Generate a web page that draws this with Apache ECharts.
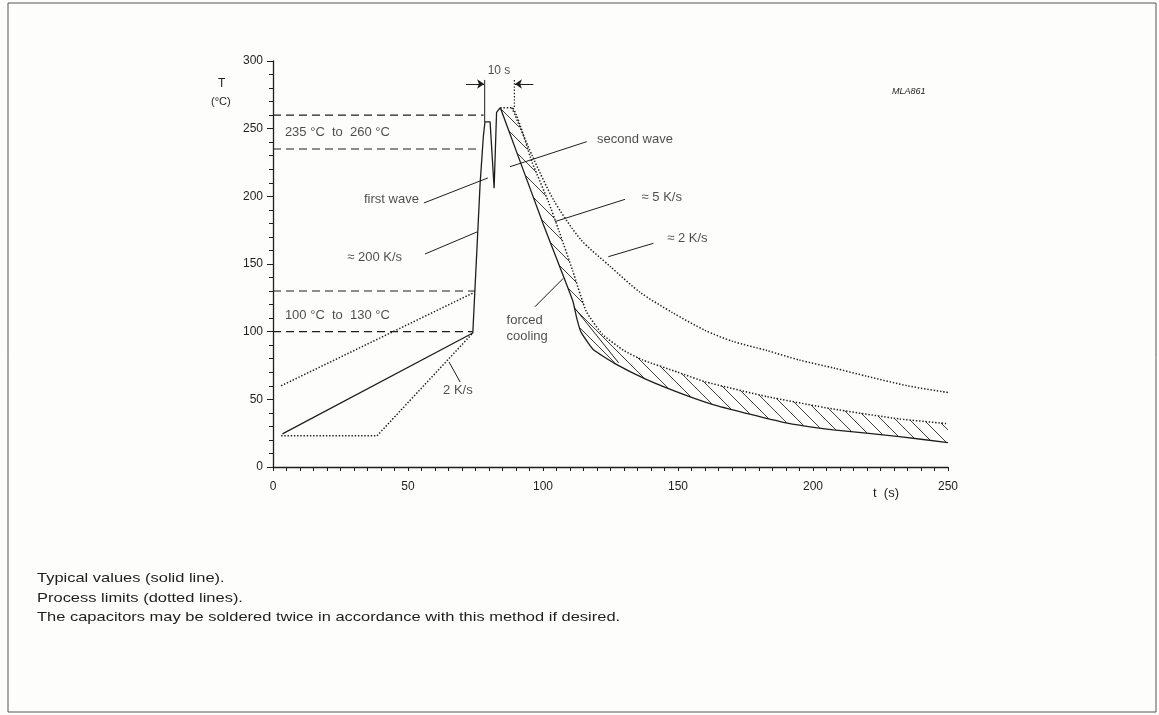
<!DOCTYPE html>
<html><head><meta charset="utf-8">
<script src="https://cdn.jsdelivr.net/npm/echarts@6/dist/echarts.min.js"></script>
<style>html,body{margin:0;padding:0;background:#fdfdfc;}#c{width:1159px;height:715px;}</style>
</head><body><div id="c"></div>
<script>
// ---- data (t in s, T in °C) ----
const xMin = 0, xMax = 250, xStep = 50;
const yMin = 0, yMax = 300, yStep = 50;

// typical profile (solid): preheat + first wave + second wave peak
const solidHeat = [[3.5,24.5],[74,99],[75.7,168],[76.7,209],[77.9,244],[78.5,255],[80.4,255],[81.9,206],[82.8,262],[84.2,265.5]];
// typical cooling (solid), lower edge of hatched band
const solidCool = [[84.2,265.5],[100,180],[111,123],[112.5,110],[114,100],[118.5,87],[127,76],[138,65],[153,53],[165,45],[189,33],[207.5,27.5],[232,22.5],[250,18]];
// forced cooling straight segment (solid)
const forcedStraight = [[111.5,118],[128,77]];
// ~5 K/s limit (dotted), upper edge of hatched band
const dotted5 = [[84.2,265.5],[88.5,265.5],[96,225],[102,196],[106,174],[111,145],[116,115],[122,98],[130,86],[137,79],[150,70],[160,63],[183,52],[207,43],[232,35.5],[250,32]];
// ~2 K/s limit (dotted)
const dotted2 = [[88.5,265.5],[96,230],[104,197],[114,168],[125,148],[136,129],[148,114],[160,101],[170,93],[183,86],[195,79],[208,73],[220,67],[235,60],[250,55]];
// preheat limits (dotted)
const preUpper = [[3,60],[74.5,129]];
const preLower = [[3,23],[38.5,23],[74,99]];
// dashed temperature bands
const dash260 = [[0,260],[78,260]];
const dash235 = [[0,235],[77,235]];
const dash130 = [[0,130],[74.8,130]];
const dash100 = [[0,100],[74,100]];
// 10 s marker
const mark10Left = [[78.4,255],[78.4,286]];
const mark10Right = [[89.4,266],[89.4,286]];
const arrowLeft = [[71.5,283],[78.2,283]];
const arrowRight = [[96.4,283],[89.6,283]];
// leader lines
const leaders = [
  [[55.9,195.1],[79.6,213.6]],   // first wave
  [[56.3,157.4],[75.6,173.7]],   // 200 K/s
  [[65.2,77.6],[69.3,62.8]],     // 2 K/s (preheat)
  [[87.8,221.9],[116.2,240.4]],  // second wave
  [[104.4,181.3],[130.4,197.8]], // 5 K/s
  [[124.2,155.4],[140.9,165.3]], // 2 K/s
  [[97,118.4],[107.5,139.4]]     // forced cooling
];
// annotation texts and anchor (left, middle) in data units
const annTexts = ['235 °C  to  260 °C','first wave','≈ 200 K/s','100 °C  to  130 °C','2 K/s','second wave','≈ 5 K/s','≈ 2 K/s','forced','cooling'];
const annAt = [[4.4,247.5],[33.7,198],[27.5,154.5],[4.4,112.3],[63,56.4],[120,242],[136.5,199.5],[146,169],[86.5,108.6],[86.5,96.5]];
const topText = '10 s';
const topAt = [79.5,293];
const notes = ['Typical values (solid line).','Process limits (dotted lines).','The capacitors may be soldered twice in accordance with this method if desired.'];

// ---- chart ----
const INK = '#1e1e1e';
const FONT = '"Liberation Sans", Arial, Helvetica, sans-serif';
function hatchPattern(){
  const s = 14, c = document.createElement('canvas');
  c.width = s; c.height = s;
  const g = c.getContext('2d');
  g.strokeStyle = '#2a2a2a'; g.lineWidth = 0.9;
  g.beginPath();
  for (const k of [-s, 0, s]) { g.moveTo(0, k); g.lineTo(s, s + k); }
  g.stroke();
  return c;
}
const pat = hatchPattern();
const dotted = [1.4, 1.8];
const dashed = [8, 5];
function line(data, type, width, smooth){
  return {type:'line', data, symbol:'none', silent:true, animation:false, smooth:smooth||false,
    lineStyle:{color:INK, width:width||1.2, type:type||'solid'}, z:3};
}
const chart = echarts.init(document.getElementById('c'), null, {renderer:'canvas'});
chart.setOption({
  backgroundColor:'#fdfdfc',
  animation:false,
  grid:{left:273, right:211, top:61, bottom:248, containLabel:false},
  xAxis:{type:'value', min:xMin, max:xMax, interval:xStep,
    axisLine:{show:true, lineStyle:{color:INK, width:1.3}},
    axisTick:{show:true, length:4, lineStyle:{color:INK}},
    minorTick:{show:true, splitNumber:10, length:4, lineStyle:{color:INK}},
    splitLine:{show:false},
    axisLabel:{color:INK, fontSize:12, fontFamily:FONT, margin:14}},
  yAxis:{type:'value', min:yMin, max:yMax, interval:yStep,
    axisLine:{show:true, lineStyle:{color:INK, width:1.3}},
    axisTick:{show:true, length:6, lineStyle:{color:INK}},
    minorTick:{show:true, splitNumber:5, length:4, lineStyle:{color:INK}},
    splitLine:{show:false},
    axisLabel:{color:INK, fontSize:12, fontFamily:FONT, margin:10}},
  series:[
    {type:'custom', coordinateSystem:'cartesian2d', data:[[84.2,265.5]], silent:true, z:1,
      renderItem:function(params, api){
        const pts = dotted5.map(d=>api.coord(d)).concat(solidCool.slice().reverse().map(d=>api.coord(d)));
        return {type:'polygon', shape:{points:pts}, style:{fill:{image:pat, repeat:'repeat'}, stroke:null}};
      }},
    line(dash260, dashed, 1.1), line(dash235, dashed, 1.1), line(dash130, dashed, 1.1), line(dash100, dashed, 1.1),
    line(preUpper, dotted, 1.5), line(preLower, dotted, 1.5),
    line(solidHeat, 'solid', 1.3),
    line(solidCool, 'solid', 1.3, 0.15),
    line(forcedStraight, 'solid', 1),
    line(dotted5, dotted, 1.5, 0.15),
    line(dotted2, dotted, 1.5, 0.25),
    line(mark10Left, 'solid', 1),
    line(mark10Right, dotted, 1.2),
    {type:'lines', coordinateSystem:'cartesian2d', silent:true, z:3,
      data: leaders.map(c=>({coords:c})),
      lineStyle:{color:INK, width:1, opacity:1}},
    {type:'lines', coordinateSystem:'cartesian2d', silent:true, z:3,
      symbol:['none','arrow'], symbolSize:[0,7],
      data:[{coords:arrowLeft},{coords:arrowRight}],
      lineStyle:{color:INK, width:1.2, opacity:1}},
    {type:'scatter', symbolSize:0, silent:true, z:4,
      data: annAt.map((p,i)=>({value:p, name:annTexts[i]})),
      label:{show:true, position:'inside', align:'left', verticalAlign:'middle',
        formatter:p=>p.name, color:INK, fontSize:13, fontFamily:FONT}},
    {type:'scatter', symbolSize:0, silent:true, z:4,
      data:[{value:topAt, name:topText}],
      label:{show:true, position:'inside', align:'left', verticalAlign:'middle',
        formatter:p=>p.name, color:INK, fontSize:12, fontFamily:FONT}}
  ],
  graphic:[
    {type:'rect', shape:{x:8, y:3, width:1148, height:709}, style:{fill:null, stroke:'#555', lineWidth:1}, silent:true},
    {type:'text', left:218, top:78, style:{text:'T', font:'12px '+FONT, fill:INK}},
    {type:'text', left:211, top:96, style:{text:'(°C)', font:'11px '+FONT, fill:INK}},
    {type:'text', left:873, top:487, style:{text:'t  (s)', font:'13px '+FONT, fill:INK}},
    {type:'text', left:892, top:87, style:{text:'MLA861', font:'italic 9px '+FONT, fill:INK}},
    {type:'text', x:37, y:571, scaleX:1.22, style:{text:notes[0], font:'13.5px '+FONT, fill:INK}},
    {type:'text', x:37, y:591, scaleX:1.22, style:{text:notes[1], font:'13.5px '+FONT, fill:INK}},
    {type:'text', x:37, y:610, scaleX:1.22, style:{text:notes[2], font:'13.5px '+FONT, fill:INK}}
  ]
});
</script>
</body></html>
